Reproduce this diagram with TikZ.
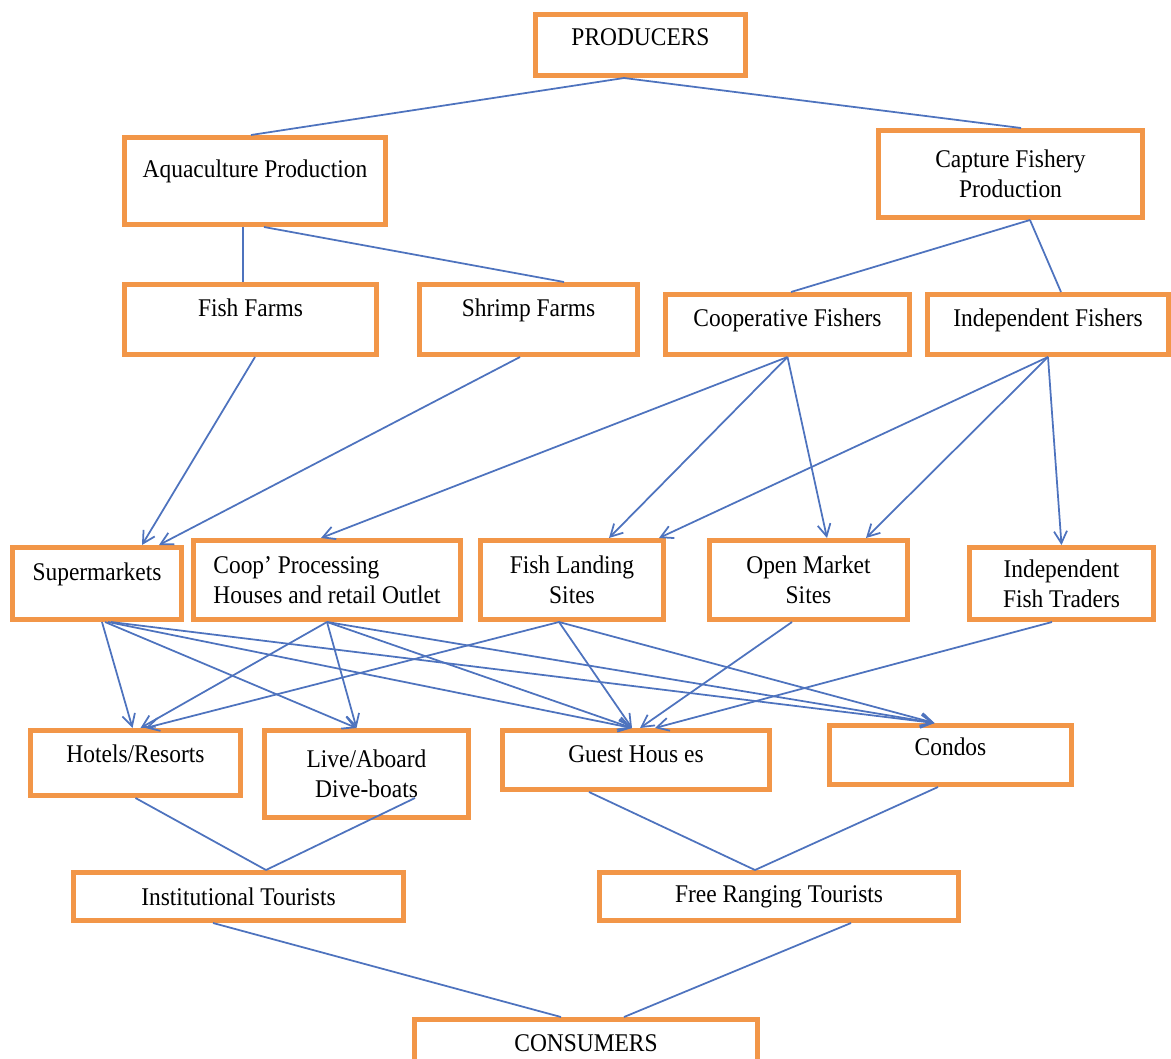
\documentclass[tikz,border=0pt]{standalone}
\usepackage{fontspec}
\setmainfont{Liberation Serif}[FakeStretch=0.92]
\usetikzlibrary{arrows.meta,calc}
\definecolor{boxorange}{RGB}{242,150,72}
\definecolor{linkblue}{RGB}{78,115,190}

\begin{document}
\begin{tikzpicture}[x=0.02cm, y=-0.02cm, >={Straight Barb[length=2.4mm,width=2.6mm]},
        box/.style={draw=boxorange, line width=2.6pt, fill=white, align=center, inner sep=2pt, font=\fontsize{14.5}{17}\selectfont},
        boxsize/.style 2 args={minimum width=#1*0.02cm-2.6pt, minimum height=#2*0.02cm-2.6pt},
        lift/.style={text height=9.5pt, text depth=#1},
        link/.style={draw=linkblue, line width=1pt},
        flow/.style={link, ->}]
        \useasboundingbox (0,0) rectangle (1171,1059);

        \node[box, boxsize={215}{66}, lift=8.5pt] (prod) at (640.5,45) {PRODUCERS};
        \node[box, boxsize={266}{92}, lift=13pt] (aqua) at (255,181) {Aquaculture Production};
        \node[box, boxsize={269}{92}] (capt) at (1010.5,174) {Capture Fishery\\Production};
        \node[box, boxsize={257}{75}, lift=13pt] (ffarm) at (250.5,319.5) {Fish Farms};
        \node[box, boxsize={223}{75}, lift=13pt] (sfarm) at (528.5,319.5) {Shrimp Farms};
        \node[box, boxsize={249}{65}, lift=7.3pt] (coopf) at (787.5,324.5) {Cooperative Fishers};
        \node[box, boxsize={246}{65}, lift=7.3pt] (indf) at (1048,324.5) {Independent Fishers};
        \node[box, boxsize={174}{77}, lift=13pt] (super) at (97,583.5) {Supermarkets};
        \node[box, boxsize={272}{84}, align=left] (coopp) at (327,580) {Coop' Processing\\Houses and retail Outlet};
        \node[box, boxsize={188}{84}] (land) at (572,580) {Fish Landing\\Sites};
        \node[box, boxsize={203}{84}] (omkt) at (808.5,580) {Open Market\\Sites};
        \node[box, boxsize={189}{77}] (trad) at (1061.5,583.5) {Independent\\Fish Traders};
        \node[box, boxsize={215}{70}, lift=9.6pt] (hotel) at (135.5,763) {Hotels/Resorts};
        \node[box, boxsize={209}{92}] (live) at (366.5,774) {Live/Aboard\\Dive-boats};
        \node[box, boxsize={272}{64}, lift=6.2pt] (guest) at (636,760) {Guest Hous es};
        \node[box, boxsize={247}{64}, lift=8.5pt] (condo) at (950.5,755) {Condos};
        \node[box, boxsize={335}{53}] (inst) at (238.5,896.5) {Institutional Tourists};
        \node[box, boxsize={364}{53}] (free) at (779,896.5) {Free Ranging Tourists};
        \node[box, boxsize={348}{52}] (cons) at (586,1043) {CONSUMERS};

        % producers down to the farms and fishers
        \draw[link] ($(prod.south)+(-16.5,0)$) -- ($(aqua.north)+(-4,0)$);
        \draw[link] ($(prod.south)+(-16.5,0)$) -- ($(capt.north)+(10.5,0)$);
        \draw[link] ($(aqua.south)+(-12,0)$) -- ($(ffarm.north)+(-7.5,0)$);
        \draw[link] ($(aqua.south)+(9,0)$) -- ($(sfarm.north)+(35.5,0)$);
        \draw[link] ($(capt.south)+(19.5,0)$) -- ($(coopf.north)+(3.5,0)$);
        \draw[link] ($(capt.south)+(19.5,0)$) -- ($(indf.north)+(13,0)$);

        % to the outlets
        \draw[flow] ($(ffarm.south)+(4.5,0)$) -- ($(super.north)+(45,0)$);
        \draw[flow] ($(sfarm.south)+(-8.5,0)$) -- ($(super.north)+(62,0)$);
        \draw[flow] (coopf.south) -- ($(coopp.north)+(-6,0)$);
        \draw[flow] (coopf.south) -- ($(land.north)+(37,0)$);
        \draw[flow] (coopf.south) -- ($(omkt.north)+(18.5,0)$);
        \draw[flow] (indf.south) -- ($(land.north)+(87,0)$);
        \draw[flow] (indf.south) -- ($(omkt.north)+(57.5,0)$);
        \draw[flow] (indf.south) -- (trad.north);

        % to the lodgings
        \draw[flow] ($(super.south)+(5,0)$) -- ($(hotel.north)+(-3,0)$);
        \draw[flow] ($(super.south)+(8,0)$) -- ($(live.north)+(-10,0)$);
        \draw[flow] ($(super.south)+(11,0)$) -- ($(guest.north)+(-4,0)$);
        \draw[flow] ($(super.south)+(14,0)$) -- ($(condo.north)+(-16,0)$);
        \draw[flow] (coopp.south) -- ($(hotel.north)+(5,0)$);
        \draw[flow] (coopp.south) -- ($(live.north)+(-10,0)$);
        \draw[flow] (coopp.south) -- ($(guest.north)+(-4,0)$);
        \draw[flow] (coopp.south) -- ($(condo.north)+(-16,0)$);
        \draw[flow] ($(land.south)+(-13,0)$) -- ($(hotel.north)+(10,0)$);
        \draw[flow] ($(land.south)+(-13,0)$) -- ($(guest.north)+(-4,0)$);
        \draw[flow] ($(land.south)+(-13,0)$) -- ($(condo.north)+(-16,0)$);
        \draw[flow] ($(omkt.south)+(-16.5,0)$) -- ($(guest.north)+(4,0)$);
        \draw[flow] ($(trad.south)+(-9.5,0)$) -- ($(guest.north)+(19,0)$);

        % tourists and consumers
        \draw[link] (hotel.south) -- ($(inst.north)+(27.5,0)$);
        \draw[link] ($(live.south)+(48.5,-22)$) -- ($(inst.north)+(27.5,0)$);
        \draw[link] ($(guest.south)+(-47,0)$) -- ($(free.north)+(-24,0)$);
        \draw[link] ($(condo.south)+(-12.5,0)$) -- ($(free.north)+(-24,0)$);
        \draw[link] ($(inst.south)+(-25.5,0)$) -- ($(cons.north)+(-25,0)$);
        \draw[link] ($(free.south)+(72,0)$) -- ($(cons.north)+(38,0)$);
    \end{tikzpicture}
\end{document}
